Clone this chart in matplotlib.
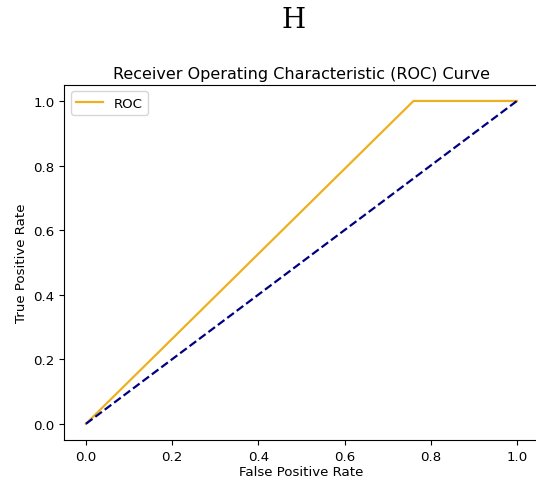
import matplotlib
matplotlib.use("Agg")
import matplotlib.pyplot as plt

fpr = [0.0, 0.76, 1.0]
tpr = [0.0, 1.0, 1.0]
diag_x = [0.0, 1.0]
diag_y = [0.0, 1.0]
xticks = [0.0, 0.2, 0.4, 0.6, 0.8, 1.0]
yticks = [0.0, 0.2, 0.4, 0.6, 0.8, 1.0]

plt.rcParams['font.size'] = 9.6
fig = plt.figure(figsize=(5.36, 4.81), dpi=100)
ax = fig.add_axes([0.120, 0.0832, 0.8847, 0.7384])
ax.plot(fpr, tpr, color='#EDB120', lw=1.6, label='ROC')
ax.plot(diag_x, diag_y, color='navy', lw=1.6, linestyle='--')
ax.set_xlim(-0.05, 1.05)
ax.set_ylim(-0.05, 1.05)
ax.set_xticks(xticks)
ax.set_yticks(yticks)
ax.tick_params(labelsize=9.6)
ax.set_xlabel('False Positive Rate', fontsize=9.6, labelpad=2)
ax.set_ylabel('True Positive Rate', fontsize=9.6)
ax.set_title('Receiver Operating Characteristic (ROC) Curve', fontsize=11.5, pad=5)
ax.legend(loc='upper left', fontsize=9.6)
fig.text(0.547, 0.958, 'H', family='DejaVu Serif', fontsize=20, ha='center', va='center')
fig.savefig('out.png', dpi=100)
